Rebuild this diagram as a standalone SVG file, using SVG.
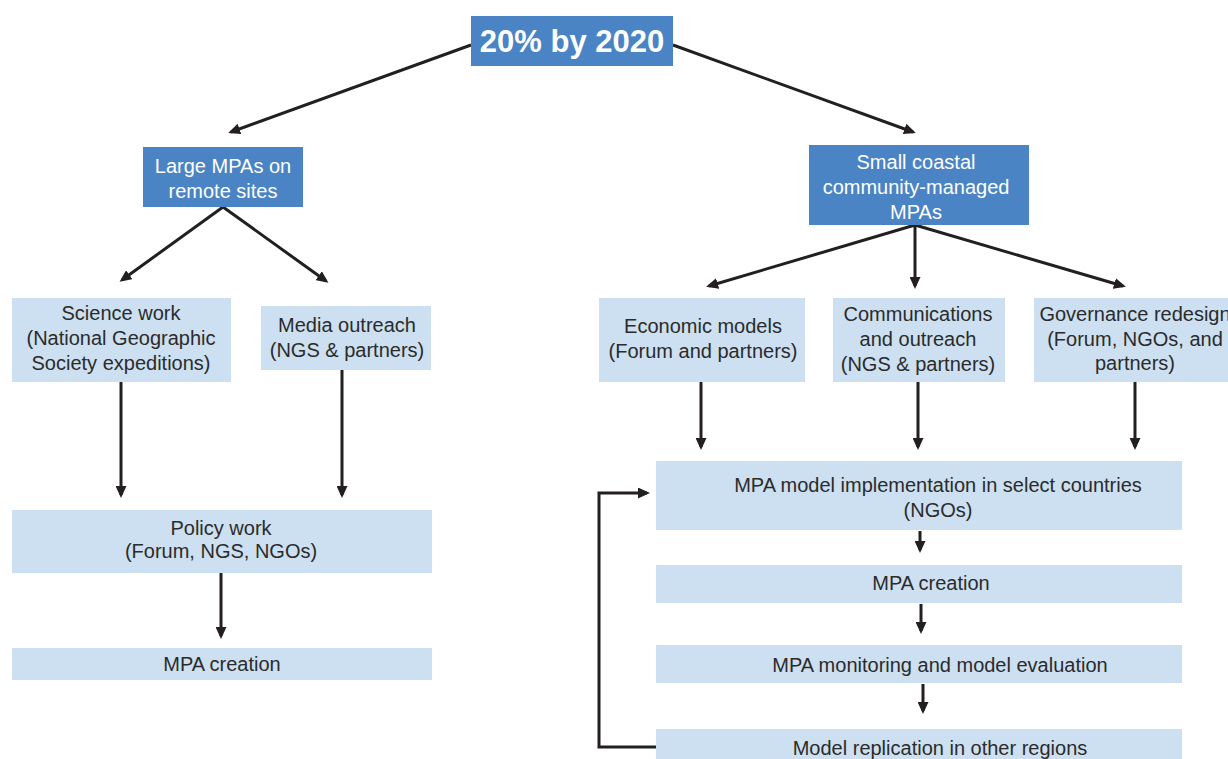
<svg xmlns="http://www.w3.org/2000/svg" width="1228" height="759" viewBox="0 0 1228 759">
  <style>
    .dark { fill: #4a84c4; }
    .light { fill: #cde0f1; }
    .t { font-family: "Liberation Sans", Arial, sans-serif; font-size: 20px; fill: #2b2b2b; text-anchor: middle; }
    .tw { font-family: "Liberation Sans", Arial, sans-serif; font-size: 20px; fill: #ffffff; text-anchor: middle; }
    .title { font-family: "Liberation Sans", Arial, sans-serif; font-size: 31px; font-weight: bold; fill: #ffffff; text-anchor: middle; }
    .conn { stroke: #231f20; stroke-width: 3; fill: none; marker-end: url(#arrow); }
  </style>
  <defs>
    <marker id="arrow" markerWidth="12" markerHeight="11" refX="9" refY="5.5" orient="auto" markerUnits="userSpaceOnUse" viewBox="0 0 12 11">
      <path d="M0,0 L12,5.5 L0,11 z" fill="#231f20"/>
    </marker>
  </defs>
  <rect width="1228" height="759" fill="#ffffff"/>

  <g id="connectors">
    <line class="conn" x1="471" y1="45" x2="231" y2="132"/>
    <line class="conn" x1="673" y1="45" x2="913" y2="132"/>
    <line class="conn" x1="223" y1="207" x2="122" y2="280"/>
    <line class="conn" x1="223" y1="207" x2="326" y2="281"/>
    <line class="conn" x1="915" y1="225" x2="709" y2="286"/>
    <line class="conn" x1="915" y1="225" x2="915" y2="286"/>
    <line class="conn" x1="915" y1="225" x2="1123" y2="286"/>
    <line class="conn" x1="121" y1="382" x2="121" y2="495"/>
    <line class="conn" x1="342" y1="370" x2="342" y2="495"/>
    <line class="conn" x1="221" y1="573" x2="221" y2="636"/>
    <line class="conn" x1="701" y1="382" x2="701" y2="447"/>
    <line class="conn" x1="918" y1="382" x2="918" y2="447"/>
    <line class="conn" x1="1135" y1="382" x2="1135" y2="447"/>
    <line class="conn" x1="920" y1="531" x2="920" y2="550"/>
    <line class="conn" x1="921" y1="604" x2="921" y2="631"/>
    <line class="conn" x1="923" y1="684" x2="923" y2="711"/>
    <polyline class="conn" points="656,747 599,747 599,493 647,493"/>
  </g>

  <g id="goal">
    <rect class="dark" x="471" y="16" width="202" height="50"/>
    <text class="title" x="572" y="52">20% by 2020</text>
  </g>

  <g id="large-mpas">
    <rect class="dark" x="143" y="147" width="160" height="60"/>
    <text class="tw" x="223" y="173">Large MPAs on</text>
    <text class="tw" x="223" y="198">remote sites</text>
  </g>

  <g id="small-mpas">
    <rect class="dark" x="809" y="145" width="220" height="80"/>
    <text class="tw" x="916" y="169">Small coastal</text>
    <text class="tw" x="916" y="194">community-managed</text>
    <text class="tw" x="916" y="219">MPAs</text>
  </g>

  <g id="science-work">
    <rect class="light" x="12" y="298" width="219" height="84"/>
    <text class="t" x="121" y="320">Science work</text>
    <text class="t" x="121" y="345">(National Geographic</text>
    <text class="t" x="121" y="370">Society expeditions)</text>
  </g>

  <g id="media-outreach">
    <rect class="light" x="261" y="306" width="170" height="64"/>
    <text class="t" x="347" y="332">Media outreach</text>
    <text class="t" x="347" y="357">(NGS &amp; partners)</text>
  </g>

  <g id="policy-work">
    <rect class="light" x="12" y="510" width="420" height="63"/>
    <text class="t" x="221" y="535">Policy work</text>
    <text class="t" x="221" y="558">(Forum, NGS, NGOs)</text>
  </g>

  <g id="mpa-creation-left">
    <rect class="light" x="12" y="648" width="420" height="32"/>
    <text class="t" x="222" y="671">MPA creation</text>
  </g>

  <g id="economic-models">
    <rect class="light" x="599" y="298" width="206" height="84"/>
    <text class="t" x="703" y="333">Economic models</text>
    <text class="t" x="703" y="358">(Forum and partners)</text>
  </g>

  <g id="communications">
    <rect class="light" x="833" y="298" width="172" height="84"/>
    <text class="t" x="918" y="321">Communications</text>
    <text class="t" x="918" y="346">and outreach</text>
    <text class="t" x="918" y="371">(NGS &amp; partners)</text>
  </g>

  <g id="governance">
    <rect class="light" x="1034" y="298" width="200" height="84"/>
    <text class="t" x="1135" y="321">Governance redesign</text>
    <text class="t" x="1135" y="346">(Forum, NGOs, and</text>
    <text class="t" x="1135" y="370">partners)</text>
  </g>

  <g id="implementation">
    <rect class="light" x="656" y="461" width="526" height="69"/>
    <text class="t" x="938" y="492">MPA model implementation in select countries</text>
    <text class="t" x="938" y="517">(NGOs)</text>
  </g>

  <g id="mpa-creation-right">
    <rect class="light" x="656" y="565" width="526" height="38"/>
    <text class="t" x="931" y="590">MPA creation</text>
  </g>

  <g id="monitoring">
    <rect class="light" x="656" y="645" width="526" height="38"/>
    <text class="t" x="940" y="672">MPA monitoring and model evaluation</text>
  </g>

  <g id="replication">
    <rect class="light" x="656" y="729" width="526" height="40"/>
    <text class="t" x="940" y="755">Model replication in other regions</text>
  </g>
</svg>
